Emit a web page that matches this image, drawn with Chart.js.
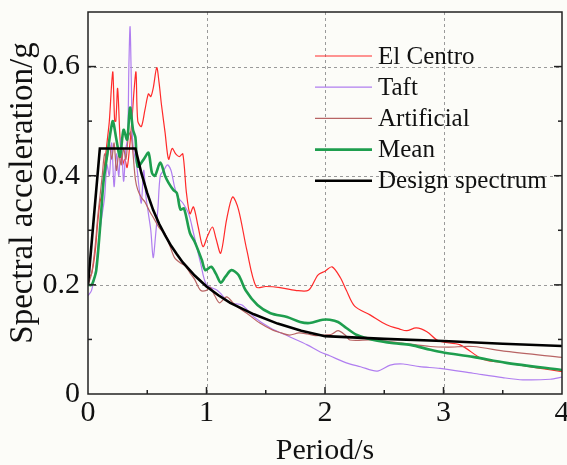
<!DOCTYPE html>
<html><head><meta charset="utf-8">
<script src="https://cdn.jsdelivr.net/npm/chart.js@4/dist/chart.umd.min.js"></script>
<style>html,body{margin:0;padding:0;background:#fcfcf8;}#wrap{width:567px;height:465px;}</style>
</head><body><div id="wrap"><canvas id="c" width="567" height="465"></canvas></div>
<script>
const xTicks = [0, 1, 2, 3, 4];
const yTicks = [0, 0.2, 0.4, 0.6];
const seriesNames = ["El Centro", "Taft", "Artificial", "Mean", "Design spectrum"];
const xTitle = "Period/s";
const yTitle = "Spectral acceleration/g";

const elCentroT = [0,0.03,0.06,0.08,0.1,0.12,0.14,0.16,0.18,0.2,0.21,0.225,0.235,0.25,0.27,0.29,0.31,0.33,0.35,0.37,0.39,0.405,0.42,0.45,0.48,0.51,0.53,0.55,0.58,0.6,0.62,0.65,0.68,0.71,0.74,0.77,0.8,0.83,0.86,0.89,0.93,0.97,1.01,1.05,1.08,1.12,1.17,1.22,1.27,1.34,1.42,1.5,1.62,1.75,1.86,1.94,2.0,2.06,2.13,2.18,2.25,2.38,2.52,2.63,2.69,2.77,2.86,2.96,3.14,3.33,3.53,3.79,4.0];
const elCentroSa = [0.21,0.22,0.26,0.31,0.35,0.37,0.42,0.46,0.5,0.57,0.59,0.5,0.5,0.56,0.47,0.42,0.43,0.415,0.45,0.5,0.56,0.59,0.5,0.49,0.52,0.55,0.545,0.56,0.598,0.57,0.53,0.48,0.43,0.45,0.44,0.435,0.44,0.37,0.33,0.343,0.306,0.27,0.29,0.306,0.285,0.258,0.32,0.361,0.338,0.264,0.196,0.197,0.195,0.19,0.19,0.218,0.225,0.233,0.213,0.19,0.161,0.145,0.127,0.119,0.116,0.121,0.114,0.097,0.09,0.064,0.057,0.048,0.041];

const taftT = [0,0.03,0.06,0.09,0.12,0.14,0.16,0.18,0.2,0.22,0.24,0.26,0.28,0.3,0.32,0.335,0.345,0.355,0.365,0.375,0.39,0.41,0.43,0.45,0.47,0.49,0.51,0.53,0.55,0.57,0.59,0.61,0.64,0.67,0.7,0.73,0.76,0.8,0.85,0.89,0.95,1.0,1.09,1.2,1.3,1.4,1.54,1.7,1.85,1.96,2.04,2.18,2.3,2.44,2.55,2.66,2.8,2.97,3.25,3.5,3.67,3.9,4.0];
const taftSa = [0.18,0.19,0.22,0.28,0.33,0.36,0.42,0.4,0.46,0.38,0.44,0.4,0.47,0.39,0.45,0.47,0.6,0.673,0.58,0.47,0.44,0.42,0.38,0.35,0.41,0.36,0.33,0.3,0.25,0.29,0.34,0.4,0.41,0.42,0.41,0.38,0.36,0.35,0.33,0.295,0.24,0.2,0.19,0.167,0.163,0.141,0.121,0.105,0.09,0.077,0.07,0.057,0.05,0.042,0.053,0.055,0.05,0.047,0.038,0.03,0.026,0.027,0.031];

const artificialT = [0,0.03,0.06,0.08,0.1,0.12,0.14,0.16,0.18,0.2,0.22,0.24,0.26,0.28,0.3,0.32,0.34,0.36,0.38,0.4,0.42,0.45,0.48,0.52,0.56,0.6,0.65,0.69,0.73,0.78,0.82,0.86,0.9,0.95,1.0,1.03,1.07,1.11,1.17,1.22,1.26,1.34,1.45,1.56,1.63,1.7,1.78,1.85,1.92,1.98,2.05,2.11,2.17,2.21,2.38,2.5,2.66,2.89,3.04,3.25,3.53,4.0];
const artificialSa = [0.2,0.22,0.27,0.32,0.36,0.4,0.44,0.43,0.46,0.43,0.46,0.41,0.44,0.42,0.45,0.43,0.47,0.48,0.44,0.393,0.374,0.36,0.352,0.335,0.32,0.305,0.293,0.272,0.25,0.24,0.235,0.222,0.21,0.19,0.19,0.196,0.18,0.167,0.178,0.168,0.16,0.148,0.13,0.117,0.112,0.108,0.112,0.11,0.107,0.108,0.109,0.116,0.108,0.099,0.099,0.097,0.093,0.087,0.086,0.087,0.078,0.067];

const meanT = [0,0.03,0.05,0.07,0.1,0.13,0.15,0.17,0.19,0.21,0.24,0.27,0.3,0.33,0.355,0.38,0.4,0.42,0.47,0.51,0.54,0.565,0.61,0.65,0.68,0.72,0.75,0.78,0.81,0.86,0.9,0.96,0.99,1.04,1.08,1.12,1.16,1.21,1.27,1.33,1.43,1.54,1.68,1.79,1.87,1.98,2.04,2.11,2.18,2.27,2.41,2.58,2.72,2.89,3.0,3.25,3.53,4.0];
const meanSa = [0.2,0.2,0.21,0.227,0.3,0.387,0.42,0.45,0.48,0.5,0.466,0.435,0.484,0.466,0.525,0.484,0.47,0.417,0.43,0.442,0.405,0.4,0.424,0.4,0.387,0.374,0.368,0.338,0.34,0.295,0.279,0.246,0.227,0.233,0.22,0.204,0.215,0.227,0.218,0.19,0.163,0.148,0.141,0.132,0.13,0.136,0.136,0.132,0.121,0.108,0.099,0.093,0.09,0.081,0.076,0.068,0.057,0.044];

const designT = [0,0.1,0.4,0.45,0.5,0.55,0.6,0.65,0.7,0.75,0.8,0.9,1.0,1.1,1.2,1.4,1.6,1.8,2.0,2.5,3.0,3.5,4.0];
const designSa = [0.2,0.45,0.45,0.405,0.368,0.337,0.312,0.291,0.272,0.256,0.241,0.217,0.197,0.181,0.167,0.146,0.129,0.116,0.106,0.101,0.097,0.092,0.088];

const colors = ["#ff2a2a", "#b07ef0", "#b86464", "#1e9e4e", "#000000"];
const widths = [1.2, 1.2, 1.2, 2.6, 2.6];

const pts = (t, s) => t.map((v, i) => ({x: v, y: s[i]}));
const seriesData = [pts(elCentroT, elCentroSa), pts(taftT, taftSa), pts(artificialT, artificialSa), pts(meanT, meanSa), pts(designT, designSa)];

const FONT = '"Liberation Serif", "Times New Roman", serif';

const frame = {
  id: 'frame',
  beforeDatasetsDraw(chart) {
    const {ctx, chartArea: a, scales: {x, y}} = chart;
    ctx.save();
    ctx.strokeStyle = '#9a9a9a'; ctx.lineWidth = 1; ctx.setLineDash([3, 3]);
    xTicks.forEach(v => { if (v > 0 && v < 4) { const p = Math.round(x.getPixelForValue(v)) + 0.5; ctx.beginPath(); ctx.moveTo(p, a.top); ctx.lineTo(p, a.bottom); ctx.stroke(); } });
    yTicks.forEach(v => { if (v > 0) { const p = Math.round(y.getPixelForValue(v)) + 0.5; ctx.beginPath(); ctx.moveTo(a.left, p); ctx.lineTo(a.right, p); ctx.stroke(); } });
    ctx.restore();
  },
  afterDatasetsDraw(chart) {
    const {ctx, chartArea: a, scales: {x, y}} = chart;
    ctx.save();
    ctx.strokeStyle = '#222'; ctx.lineWidth = 1.5; ctx.setLineDash([]);
    ctx.strokeRect(a.left, a.top, a.right - a.left, a.bottom - a.top);
    ctx.lineWidth = 1.5;
    for (let v = 0.5; v < 4; v += 0.5) {
      const p = x.getPixelForValue(v); const L = (v % 1 === 0) ? 7 : 4;
      ctx.beginPath(); ctx.moveTo(p, a.bottom); ctx.lineTo(p, a.bottom - L); ctx.stroke();
    }
    for (let k = 1; k <= 6; k++) {
      const v = k / 10; const p = y.getPixelForValue(v); const L = (k % 2 === 0) ? 8 : 4;
      ctx.beginPath(); ctx.moveTo(a.left, p); ctx.lineTo(a.left + L, p); ctx.stroke();
      ctx.beginPath(); ctx.moveTo(a.right, p); ctx.lineTo(a.right - L, p); ctx.stroke();
    }
    // legend
    const lx0 = 315, lx1 = 372, tx = 378, y0 = 56, dy = 31.2;
    ctx.font = '25px ' + FONT; ctx.fillStyle = '#111'; ctx.textBaseline = 'middle'; ctx.textAlign = 'left';
    seriesNames.forEach((n, i) => {
      const yy = y0 + i * dy;
      ctx.strokeStyle = colors[i]; ctx.lineWidth = widths[i];
      ctx.beginPath(); ctx.moveTo(lx0, yy); ctx.lineTo(lx1, yy); ctx.stroke();
      ctx.fillText(n, tx, yy + 1);
    });
    // y axis title
    ctx.translate(23, 193); ctx.rotate(-Math.PI / 2);
    ctx.font = '33px ' + FONT; ctx.textAlign = 'center'; ctx.textBaseline = 'middle';
    ctx.fillText(yTitle, 0, 0);
    ctx.restore();
  }
};

new Chart(document.getElementById('c'), {
  type: 'line',
  data: {
    datasets: seriesData.map((d, i) => ({
      label: seriesNames[i], data: d, borderColor: colors[i], borderWidth: widths[i],
      pointRadius: 0, fill: false, tension: i === 4 ? 0 : 0.3, order: 4 - i
    }))
  },
  options: {
    responsive: false, animation: false, devicePixelRatio: 1,
    layout: {padding: {top: 12, right: 5, left: 0, bottom: 0}},
    plugins: {legend: {display: false}, tooltip: {enabled: false}},
    scales: {
      x: {
        type: 'linear', min: 0, max: 4,
        afterBuildTicks: s => { s.ticks = xTicks.map(v => ({value: v})); },
        afterFit: s => { s.height = 71; s.paddingLeft = 0; s.paddingRight = 0; },
        ticks: {font: {family: FONT, size: 30}, color: '#111', padding: 1, callback: v => String(v), maxRotation: 0},
        grid: {display: false, drawTicks: false}, border: {display: false},
        title: {display: true, text: xTitle, font: {family: FONT, size: 30}, color: '#111', padding: {top: 0, bottom: -4}}
      },
      y: {
        type: 'linear', min: 0, max: 0.7,
        afterBuildTicks: s => { s.ticks = yTicks.map(v => ({value: v})); },
        afterFit: s => { s.width = 88; s.paddingTop = 0; s.paddingBottom = 0; },
        ticks: {font: {family: FONT, size: 30}, color: '#111', padding: 8, callback: v => v === 0 ? '0' : v.toFixed(1)},
        grid: {display: false, drawTicks: false}, border: {display: false},
        title: {display: false, text: yTitle}
      }
    }
  },
  plugins: [frame]
});
</script>
</body></html>
